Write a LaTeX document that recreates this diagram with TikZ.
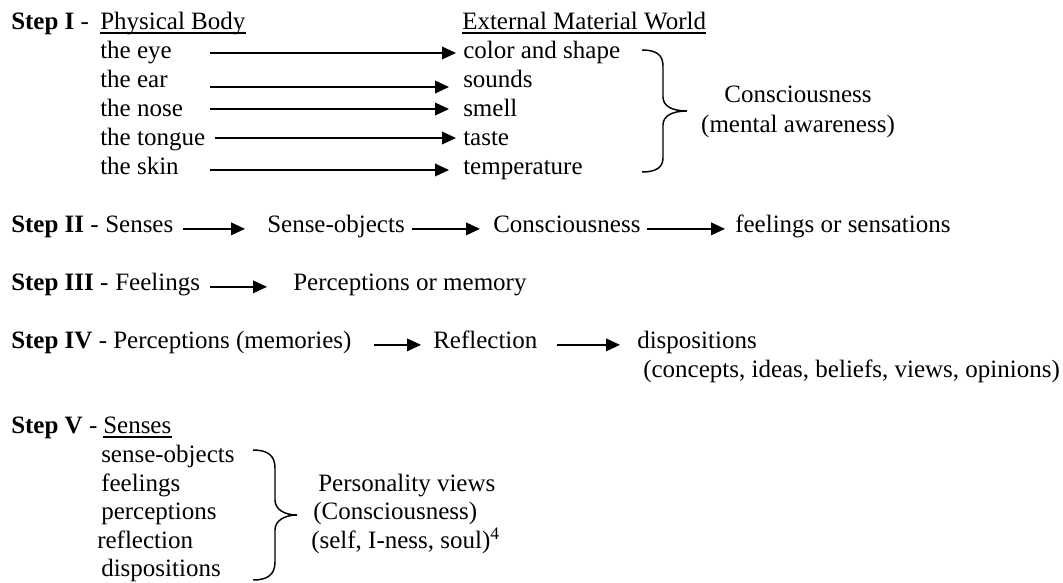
\documentclass[tikz,border=0pt]{standalone}
\usepackage{fontspec}
\setmainfont{Liberation Serif}
\usetikzlibrary{arrows.meta}
\begin{document}
\begin{tikzpicture}[x=0.75pt,y=-0.75pt,
  txt/.style={anchor=base west, inner sep=0pt, text height=0.69em, text depth=0.22em, font=\fontsize{18.75}{22}\selectfont},
  ctxt/.style={txt, anchor=base},
  arr/.style={line width=1.05pt, -{Triangle[length=10.5pt,width=9.5pt]}},
  ul/.style={line width=1pt},
  bracestyle/.style={line width=1.1pt}]
\useasboundingbox (0,0) rectangle (1063,582);

% ---------- Step I ----------
\node[txt] (s1) at (11,29) {\textbf{Step I} -};
\node[txt] (pb) at (100,29) {Physical Body};
\node[txt] (emw) at (462,29) {External Material World};
\draw[ul] ([yshift=-3pt]pb.base west) -- ([yshift=-3pt]pb.base east);
\draw[ul] ([yshift=-3pt]emw.base west) -- ([yshift=-3pt]emw.base east);

\node[txt] (eye) at (100,58) {the eye};
\node[txt] (ear) at (100,87) {the ear};
\node[txt] (nose) at (100,116) {the nose};
\node[txt] (tongue) at (100,145) {the tongue};
\node[txt] (skin) at (100,174) {the skin};

\node[txt] (color) at (463,58) {color and shape};
\node[txt] (sounds) at (463,87) {sounds};
\node[txt] (smell) at (463,116) {smell};
\node[txt] (taste) at (463,145) {taste};
\node[txt] (temp) at (463,174) {temperature};

\coordinate (eyeA) at (210,53);
\coordinate (earA) at (210,87);
\coordinate (noseA) at (210,109);
\coordinate (tongueA) at (215,138);
\coordinate (skinA) at (210,170);
\draw[arr, shorten >=5.25pt] (eyeA) -- (color.west |- eyeA);
\draw[arr, shorten >=10.5pt] (earA) -- (sounds.west |- earA);
\draw[arr, shorten >=10.5pt] (noseA) -- (smell.west |- noseA);
\draw[arr, shorten >=5.25pt] (tongueA) -- (taste.west |- tongueA);
\draw[arr, shorten >=10.5pt] (skinA) -- (temp.west |- skinA);

\coordinate (b1t) at (642,50);
\coordinate (b1m) at (687,111);
\coordinate (b1b) at (642,172);
\draw[bracestyle] (b1t) .. controls (655,50) and (663,54) .. (663,66) -- (663,97)
  .. controls (663,106) and (672,111) .. (b1m)
  .. controls (672,111) and (663,116) .. (663,125) -- (663,158)
  .. controls (663,168) and (655,172) .. (b1b);

\node[ctxt] (cons1) at (798,102) {Consciousness};
\node[ctxt] (ment) at (798,132) {(mental awareness)};

% ---------- Step II ----------
\node[txt] (s2) at (11,232) {\textbf{Step II} -};
\node[txt] (senses2) at (105,232) {Senses};
\node[txt] (sobj) at (267,232) {Sense-objects};
\node[txt] (cons2) at (493,232) {Consciousness};
\node[txt] (feel2) at (735,232) {feelings or sensations};
\draw[arr] (senses2.east -| 183,0) -- (sobj.west -| 245,0);
\draw[arr] (sobj.east -| 412,0) -- (cons2.west -| 480,0);
\draw[arr] (cons2.east -| 647,0) -- (feel2.west -| 725,0);

% ---------- Step III ----------
\node[txt] (s3) at (11,290) {\textbf{Step III} -};
\node[txt] (feel3) at (115,290) {Feelings};
\node[txt] (perc3) at (293,290) {Perceptions or memory};
\draw[arr] (feel3.east -| 210,0) -- (perc3.west -| 267,0);

% ---------- Step IV ----------
\node[txt] (s4) at (11,348) {\textbf{Step IV} -};
\node[txt] (perc4) at (113,348) {Perceptions (memories)};
\node[txt] (refl4) at (433,348) {Reflection};
\node[txt] (disp4) at (637,348) {dispositions};
\node[txt] (conc) at (643,377) {(concepts, ideas, beliefs, views, opinions)};
\draw[arr] (perc4.east -| 374,0) -- (refl4.west -| 421,0);
\draw[arr] (refl4.east -| 557,0) -- (disp4.west -| 620,0);

% ---------- Step V ----------
\node[txt] (s5) at (11,433) {\textbf{Step V} -};
\node[txt] (senses5) at (103,433) {Senses};
\draw[ul] ([yshift=-3pt]senses5.base west) -- ([yshift=-3pt]senses5.base east);
\node[txt] (so5) at (101,462) {sense-objects};
\node[txt] (fe5) at (101,491) {feelings};
\node[txt] (pe5) at (101,519) {perceptions};
\node[txt] (re5) at (97,548) {reflection};
\node[txt] (di5) at (101,576) {dispositions};

\coordinate (b2t) at (253,450);
\coordinate (b2m) at (297,515);
\coordinate (b2b) at (253,580);
\draw[bracestyle] (b2t) .. controls (267,450) and (275,455) .. (275,468) -- (275,500)
  .. controls (275,509) and (284,515) .. (b2m)
  .. controls (284,515) and (275,521) .. (275,530) -- (275,562)
  .. controls (275,575) and (267,580) .. (b2b);

\node[txt] (pv) at (318,491) {Personality views};
\node[txt] (pc) at (313,519) {(Consciousness)};
\node[txt] (ps) at (311,548) {(self, I-ness, soul)\textsuperscript{4}};
\end{tikzpicture}
\end{document}
